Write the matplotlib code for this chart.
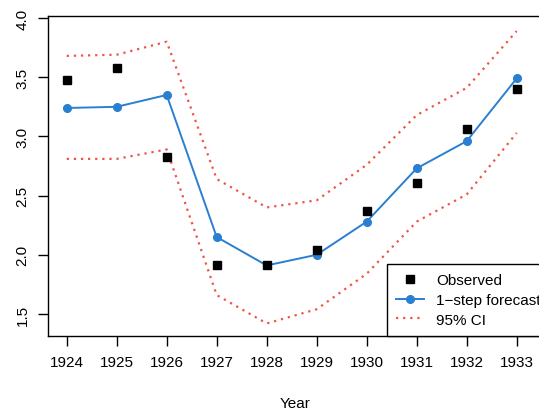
import matplotlib
matplotlib.use("Agg")
import matplotlib.pyplot as plt

plt.rcParams['font.family'] = ['Liberation Sans', 'DejaVu Sans']

years = [1924, 1925, 1926, 1927, 1928, 1929, 1930, 1931, 1932, 1933]
observed = [3.48, 3.58, 2.83, 1.91, 1.91, 2.04, 2.37, 2.61, 3.06, 3.40]
forecast = [3.24, 3.25, 3.35, 2.15, 1.91, 2.00, 2.28, 2.73, 2.96, 3.49]
upper_ci = [3.68, 3.69, 3.80, 2.64, 2.40, 2.46, 2.76, 3.18, 3.41, 3.89]
lower_ci = [2.81, 2.81, 2.89, 1.66, 1.42, 1.54, 1.84, 2.28, 2.51, 3.03]
yticks = [1.5, 2.0, 2.5, 3.0, 3.5, 4.0]

fig = plt.figure(figsize=(5.39, 4.14), dpi=100)
ax = fig.add_axes([47.7 / 539, 77 / 414, 494 / 539, 320 / 414])

ci_color = '#ee5544'
blue = '#2a7fd0'
ax.plot(years, upper_ci, linestyle=(0, (1, 2.2)), color=ci_color, lw=1.6)
ax.plot(years, lower_ci, linestyle=(0, (1, 2.2)), color=ci_color, lw=1.6,
        label='95% CI')
ax.plot(years, forecast, '-o', color=blue, lw=1.4, markersize=5.5,
        label='1\u2212step forecast')
ax.plot(years, observed, 's', color='black', markersize=5.5, linestyle='none',
        label='Observed')

ax.set_xlim(1923.62, 1933.5)
ax.set_ylim(1.314, 4.017)
ax.set_xticks(years)
ax.set_xticklabels([str(y) for y in years])
ax.set_yticks(yticks)
ax.set_yticklabels([f"{v:.1f}" for v in yticks], rotation=90, va='center')
ax.tick_params(axis='both', length=7, width=1, labelsize=11, direction='out',
               pad=7)
ax.tick_params(axis='y', pad=6)
for s in ax.spines.values():
    s.set_linewidth(1)
ax.set_xlabel('Year', fontsize=11, labelpad=19)

handles, labels = ax.get_legend_handles_labels()
order = [2, 1, 0]
leg = ax.legend([handles[i] for i in order], [labels[i] for i in order],
                loc='lower left', bbox_to_anchor=(0.687, 0.0),
                borderaxespad=0, fancybox=False, edgecolor='black',
                framealpha=1, fontsize=11, handlelength=1.8,
                handletextpad=0.8, labelspacing=0.38, borderpad=0.6)
leg.get_frame().set_linewidth(1)

fig.savefig('out.png', dpi=100)
